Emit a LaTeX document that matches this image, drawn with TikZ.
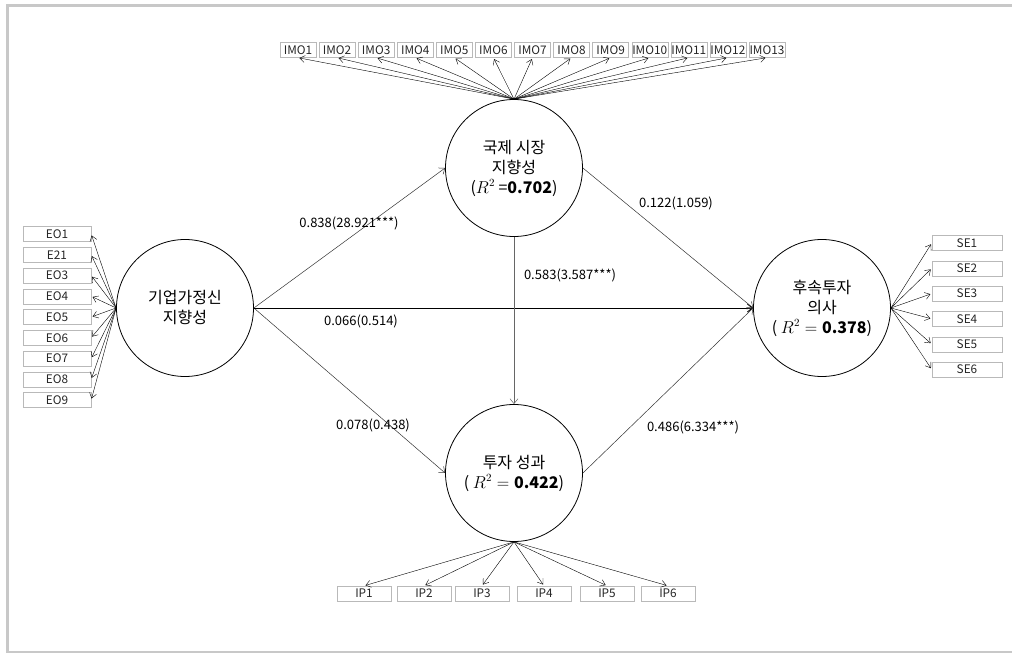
\documentclass[tikz,border=0pt]{standalone}
\usepackage{fontspec}
\setmainfont{Noto Sans CJK KR}
\usetikzlibrary{arrows.meta}
\definecolor{framegray}{RGB}{200,200,200}
\definecolor{boxgray}{RGB}{185,185,185}

\begin{document}
\begin{tikzpicture}[
    x=1pt, y=-1pt,
    latent/.style={draw, circle, minimum size=137pt, inner sep=0pt, align=center, line width=0.8pt, font=\fontsize{16}{20}\selectfont},
    ind/.style={draw=boxgray, rectangle, minimum height=15pt, inner sep=0pt, text=black!85, font=\fontsize{11.8}{13}\selectfont},
    coef/.style={inner sep=0pt, font=\fontsize{13}{15}\selectfont},
    effect/.style={-{Straight Barb[length=5pt,width=8pt]}, line width=0.5pt, black!80},
    load/.style={-{Straight Barb[length=5pt,width=7pt]}, line width=0.4pt, shorten >=1.5pt}
]
\useasboundingbox (0,0) rectangle (1012,653);
% window frame
\draw[framegray, line width=3pt] (7.3,653) -- (7.3,5) -- (1012,5);
\draw[framegray, line width=2pt] (6,652) -- (1012,652);

% latent variables
\node[latent] (eo) at (185,308) {기업가정신\\지향성};
\node[latent] (imo) at (514,168) {국제 시장\\지향성\\($R^2$ =\textbf{0.702})};
\node[latent] (ip) at (514,473) {투자 성과\\( $R^2 = {}$\textbf{0.422})};
\node[latent] (se) at (822,308) {후속투자\\의사\\( $R^2 = {}$\textbf{0.378})};

% indicators
\foreach \i [evaluate=\i as \x using 298+39.08*(\i-1)] in {1,...,13}
  \node[ind, minimum width=36pt] (imo\i) at (\x,50) {IMO\i};
\foreach \t [count=\i] in {EO1,E21,EO3,EO4,EO5,EO6,EO7,EO8,EO9}
  \node[ind, minimum width=68pt] (eo\i) at (57,{234+20.75*(\i-1)}) {\t};
\foreach \i in {1,...,6}
  \node[ind, minimum width=70pt] (se\i) at (967,{243+25.3*(\i-1)}) {SE\i};
\foreach \x [count=\i] in {364,424,482,544,607,668}
  \node[ind, minimum width=54pt] (ip\i) at (\x,593.5) {IP\i};

% loadings
\foreach \i in {1,...,13}
  \draw[load] (imo.north) -- (imo\i.south);
\foreach \i in {1,...,9}
  \draw[load] (eo.west) -- (eo\i.east);
\foreach \i in {1,...,6}
  \draw[load] (se.east) -- (se\i.west);
\foreach \i in {1,...,6}
  \draw[load] (ip.south) -- (ip\i.north);

% structural paths
\draw[effect] (eo.east) -- (imo.west);
\draw[effect] (eo.east) -- (ip.west);
\draw[effect, line width=0.9pt, black] (eo.east) -- (se.west);
\draw[effect, black!60] (imo.south) -- (ip.north);
\draw[effect] (imo.east) -- (se.west);
\draw[effect] (ip.east) -- (se.west);

% path coefficients
\node[coef] (c-eo-imo) at (349,223) {0.838(28.921***)};
\node[coef] (c-imo-se) at (676,203) {0.122(1.059)};
\node[coef] (c-imo-ip) at (570,275) {0.583(3.587***)};
\node[coef] (c-eo-se) at (361,321) {0.066(0.514)};
\node[coef] (c-eo-ip) at (373,425) {0.078(0.438)};
\node[coef] (c-ip-se) at (693,427) {0.486(6.334***)};
\end{tikzpicture}
\end{document}
